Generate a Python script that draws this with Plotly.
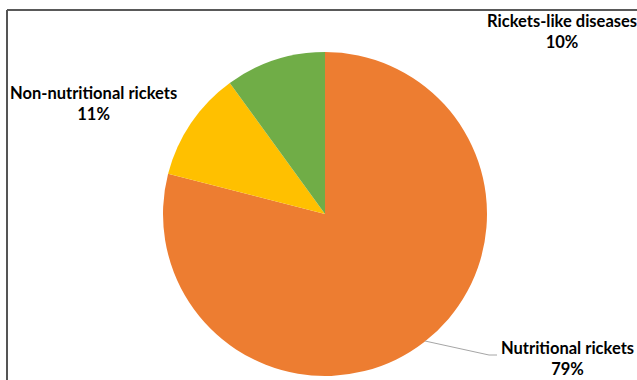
import plotly.graph_objects as go

# Rickets categories and their shares
categories = ["Nutritional rickets", "Non-nutritional rickets", "Rickets-like diseases"]
shares = [79, 11, 10]
colors = ["#ED7D31", "#FFC000", "#70AD47"]

W, H = 637, 380


def px(x):
    return x / W


def py(y):
    return 1 - y / H


fig = go.Figure(
    go.Pie(
        labels=categories,
        values=shares,
        sort=False,
        direction="clockwise",
        rotation=0,
        marker=dict(colors=colors, line=dict(width=0)),
        textinfo="none",
        hoverinfo="label+percent",
        showlegend=False,
        domain=dict(x=[px(163), px(487)], y=[py(376), py(52)]),
    )
)

font = dict(family="Lato, Carlito, Calibri, sans-serif", size=16.5, color="#000000")
total = sum(shares)
label_pos = {
    "Rickets-like diseases": (562, 31),
    "Non-nutritional rickets": (93, 104),
    "Nutritional rickets": (567, 358),
}
annotations = []
for name, val in zip(categories, shares):
    x, y = label_pos[name]
    pct = round(100 * val / total)
    annotations.append(
        dict(
            x=px(x), y=py(y), xref="paper", yref="paper",
            text=f"<b>{name}</b><br><b>{pct}%</b>",
            showarrow=False, font=font, align="center",
            xanchor="center", yanchor="middle",
        )
    )

shapes = [
    # chart frame (top and left edges)
    dict(type="line", xref="paper", yref="paper",
         x0=px(7), y0=py(10), x1=px(640), y1=py(10),
         line=dict(color="#222222", width=1.5)),
    dict(type="line", xref="paper", yref="paper",
         x0=px(7), y0=py(10), x1=px(7), y1=py(385),
         line=dict(color="#555555", width=2)),
    # leader line for the large slice label
    dict(type="line", xref="paper", yref="paper",
         x0=px(425), y0=py(341), x1=px(489), y1=py(355),
         line=dict(color="#A6A6A6", width=1)),
    dict(type="line", xref="paper", yref="paper",
         x0=px(489), y0=py(355), x1=px(497), y1=py(355),
         line=dict(color="#A6A6A6", width=1)),
]

fig.update_layout(
    width=W, height=H,
    margin=dict(l=0, r=0, t=0, b=0),
    paper_bgcolor="white",
    plot_bgcolor="white",
    annotations=annotations,
    shapes=shapes,
)

fig.write_html("out.html")
